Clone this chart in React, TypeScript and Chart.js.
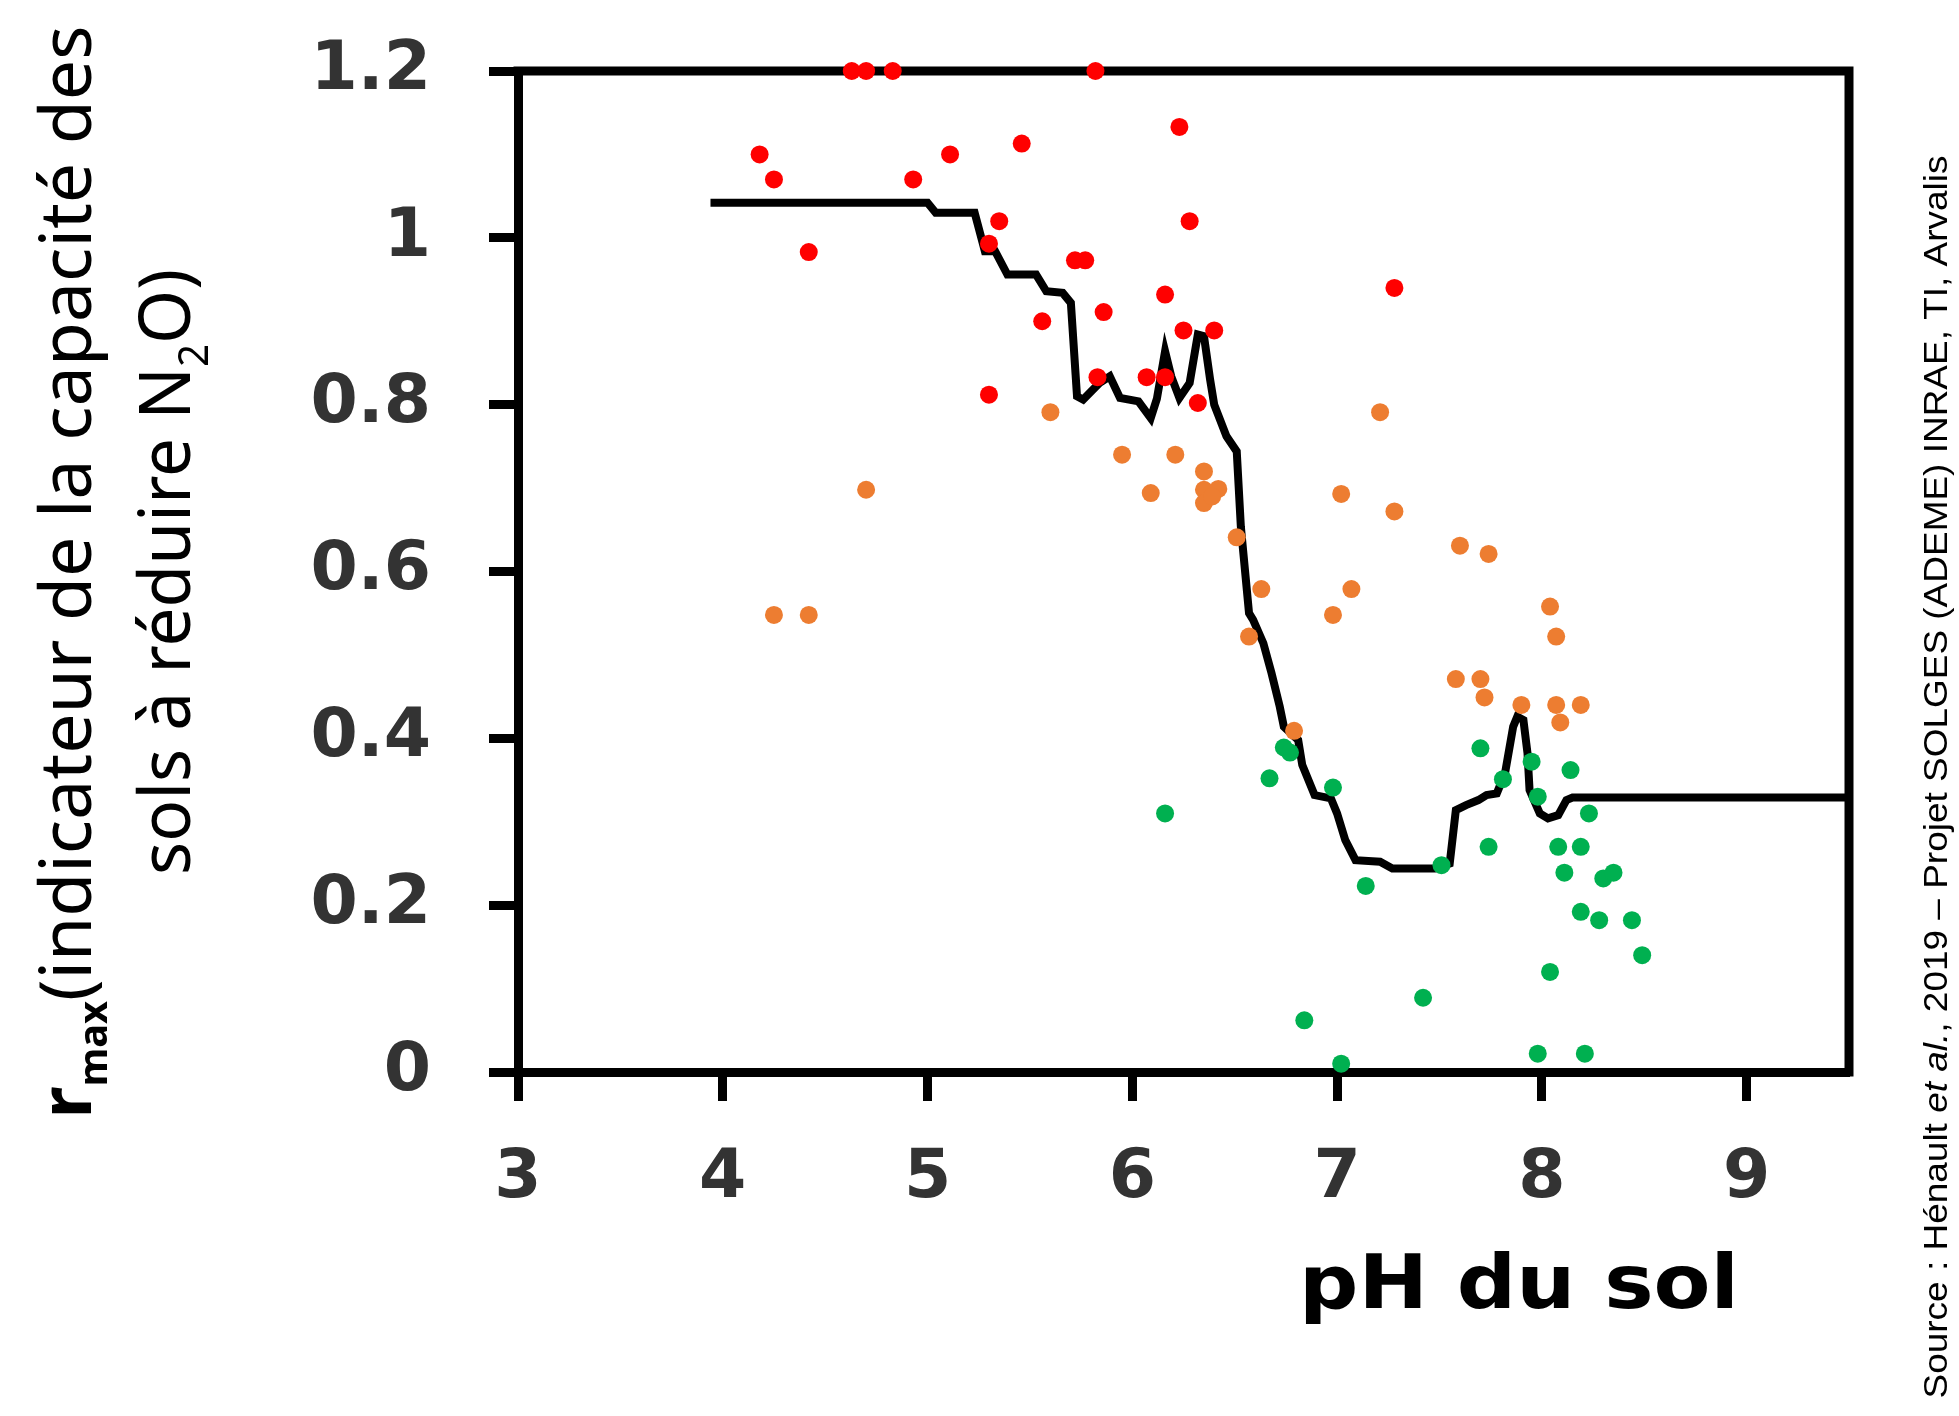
import React, { useEffect, useRef } from 'react';
import { Chart, registerables } from 'chart.js';

Chart.register(...registerables);

// ---- data ----
const redPH = [4.18, 4.25, 4.42, 4.63, 4.70, 4.83, 4.93, 5.11, 5.30, 5.35, 5.46, 5.30, 5.56, 5.72, 5.77, 5.82, 5.83, 5.86, 6.07, 6.16, 6.16, 6.23, 6.25, 6.28, 6.32, 6.40, 7.28];
const redRmax = [1.10, 1.07, 0.983, 1.2, 1.2, 1.2, 1.07, 1.10, 0.993, 1.02, 1.113, 0.812, 0.90, 0.973, 0.973, 1.2, 0.833, 0.911, 0.833, 0.833, 0.932, 1.133, 0.889, 1.02, 0.802, 0.889, 0.94];

const orangePH = [4.25, 4.42, 4.70, 5.60, 5.95, 6.09, 6.21, 6.35, 6.35, 6.42, 6.35, 6.39, 6.51, 6.57, 6.63, 6.79, 6.98, 7.02, 7.07, 7.21, 7.28, 7.58, 7.60, 7.70, 7.72, 7.74, 7.90, 8.04, 8.07, 8.07, 8.09, 8.19];
const orangeRmax = [0.548, 0.548, 0.698, 0.791, 0.740, 0.694, 0.740, 0.720, 0.698, 0.699, 0.682, 0.690, 0.641, 0.522, 0.579, 0.409, 0.548, 0.693, 0.579, 0.791, 0.672, 0.471, 0.631, 0.471, 0.449, 0.621, 0.440, 0.558, 0.522, 0.440, 0.419, 0.440];

const greenPH = [6.16, 6.67, 6.74, 6.77, 6.84, 6.98, 7.02, 7.14, 7.42, 7.51, 7.70, 7.74, 7.81, 7.95, 7.98, 7.98, 8.04, 8.08, 8.11, 8.14, 8.19, 8.19, 8.21, 8.23, 8.28, 8.30, 8.35, 8.44, 8.49];
const greenRmax = [0.310, 0.352, 0.389, 0.383, 0.062, 0.341, 0.010, 0.223, 0.089, 0.248, 0.388, 0.270, 0.351, 0.372, 0.330, 0.022, 0.120, 0.270, 0.239, 0.362, 0.270, 0.192, 0.022, 0.310, 0.182, 0.232, 0.239, 0.182, 0.140];

const curvePH = [3.94, 5.00, 5.04, 5.23, 5.28, 5.33, 5.39, 5.53, 5.58, 5.66, 5.70, 5.73, 5.76, 5.84, 5.89, 5.94, 6.03, 6.09, 6.12, 6.16, 6.19, 6.23, 6.28, 6.32, 6.35, 6.38, 6.40, 6.46, 6.51, 6.53, 6.57, 6.59, 6.64, 6.68, 6.72, 6.74, 6.81, 6.83, 6.89, 6.97, 7.00, 7.04, 7.09, 7.21, 7.27, 7.48, 7.55, 7.58, 7.63, 7.69, 7.73, 7.78, 7.82, 7.86, 7.88, 7.91, 7.93, 7.94, 7.99, 8.03, 8.08, 8.12, 8.15, 9.5];
const curveRmax = [1.042, 1.042, 1.030, 1.030, 0.984, 0.984, 0.956, 0.956, 0.936, 0.934, 0.922, 0.810, 0.806, 0.826, 0.834, 0.808, 0.804, 0.784, 0.807, 0.864, 0.834, 0.808, 0.826, 0.884, 0.882, 0.830, 0.800, 0.762, 0.744, 0.654, 0.550, 0.542, 0.514, 0.478, 0.438, 0.414, 0.398, 0.368, 0.332, 0.328, 0.310, 0.278, 0.254, 0.252, 0.244, 0.244, 0.250, 0.314, 0.320, 0.326, 0.332, 0.334, 0.358, 0.414, 0.426, 0.422, 0.382, 0.338, 0.310, 0.304, 0.308, 0.326, 0.329, 0.329];

const xTickValues = [3, 4, 5, 6, 7, 8, 9];
const xTickLabels = ['3', '4', '5', '6', '7', '8', '9'];
const yTickValues = [0, 0.2, 0.4, 0.6, 0.8, 1.0, 1.2];
const yTickLabels = ['0', '0.2', '0.4', '0.6', '0.8', '1', '1.2'];

const xTitle = 'pH du sol';
const yTitleLine1 = ['r', 'max', '(indicateur de la capacité des'];
const yTitleLine2 = ['sols à réduire N', '2', 'O)'];
const sourceParts = ['Source : Hénault ', 'et al.', ', 2019 – Projet SOLGES (ADEME) INRAE, TI, Arvalis'];

const toPoints = (xs: number[], ys: number[]) => xs.map((x, i) => ({ x, y: ys[i] }));

type Seg = { t: string; font: string; dy?: number };

function drawRun(ctx: CanvasRenderingContext2D, segs: Seg[], x0: number, y0: number, rotated: boolean, targetW: number) {
  ctx.save();
  ctx.translate(x0, y0);
  if (rotated) ctx.rotate(-Math.PI / 2);
  let W = 0;
  for (const s of segs) { ctx.font = s.font; W += ctx.measureText(s.t).width; }
  const k = targetW / W;
  ctx.scale(k, 1);
  ctx.fillStyle = '#000';
  ctx.textBaseline = 'alphabetic';
  ctx.textAlign = 'left';
  let x = -W / 2;
  for (const s of segs) {
    ctx.font = s.font;
    ctx.fillText(s.t, x, s.dy || 0);
    x += ctx.measureText(s.t).width;
  }
  ctx.restore();
}

const framePlugin = {
  id: 'frameBox',
  beforeDatasetsDraw(chart: any) {
    const { ctx, chartArea: a } = chart;
    ctx.save();
    ctx.strokeStyle = '#000';
    ctx.lineWidth = 9;
    ctx.lineCap = 'square';
    ctx.lineJoin = 'miter';
    ctx.beginPath();
    ctx.moveTo(a.left, a.top);
    ctx.lineTo(a.right, a.top);
    ctx.lineTo(a.right, a.bottom);
    ctx.stroke();
    ctx.restore();
  },
};

const textPlugin = {
  id: 'texts',
  afterDraw(chart: any) {
    const ctx: CanvasRenderingContext2D = chart.ctx;
    const F = 72;
    drawRun(ctx, [
      { t: yTitleLine1[0], font: `bold ${F}px "Noto Sans"` },
      { t: yTitleLine1[1], font: `bold ${Math.round(F * 0.55)}px "Noto Sans"`, dy: 16 },
      { t: yTitleLine1[2], font: `${F}px "Noto Sans"` },
    ], 91, 572, true, 1093);
    drawRun(ctx, [
      { t: yTitleLine2[0], font: `${F}px "Noto Sans"` },
      { t: yTitleLine2[1], font: `${Math.round(F * 0.58)}px "Noto Sans"`, dy: 18 },
      { t: yTitleLine2[2], font: `${F}px "Noto Sans"` },
    ], 190, 572, true, 606);
    drawRun(ctx, [{ t: xTitle, font: 'bold 75px "DejaVu Sans"' }], 1519, 1308, false, 440);
    drawRun(ctx, [
      { t: sourceParts[0], font: '34px "Liberation Sans"' },
      { t: sourceParts[1], font: 'italic 34px "Liberation Sans"' },
      { t: sourceParts[2], font: '34px "Liberation Sans"' },
    ], 1947, 777, true, 1243);
  },
};

export default function App() {
  const ref = useRef<HTMLCanvasElement | null>(null);
  useEffect(() => {
    if (!ref.current) return;
    const tickFont = { family: '"DejaVu Sans"', weight: 'bold' as const, size: 68 };
    const chart = new Chart(ref.current, {
      type: 'scatter',
      data: {
        datasets: [
          { label: 'rouge', data: toPoints(redPH, redRmax), backgroundColor: '#FF0000', borderWidth: 0, pointRadius: 9, clip: false as any },
          { label: 'orange', data: toPoints(orangePH, orangeRmax), backgroundColor: '#ED7D31', borderWidth: 0, pointRadius: 9, clip: false as any },
          { label: 'vert', data: toPoints(greenPH, greenRmax), backgroundColor: '#00B050', borderWidth: 0, pointRadius: 9, clip: false as any },
          { label: 'courbe', data: toPoints(curvePH, curveRmax), showLine: true, borderColor: '#000000', borderWidth: 8, pointRadius: 0, tension: 0, clip: false as any },
        ],
      },
      options: {
        animation: false,
        responsive: true,
        maintainAspectRatio: false,
        events: [],
        layout: { padding: { left: 0, top: 71, right: 110, bottom: 0 } },
        plugins: { legend: { display: false }, tooltip: { enabled: false }, title: { display: false } },
        scales: {
          x: {
            type: 'linear',
            min: 3,
            max: 9.5,
            afterBuildTicks: (s: any) => { s.ticks = xTickValues.map((v) => ({ value: v })); },
            afterFit: (s: any) => { s.height = 1416 - 1072; s.paddingLeft = 0; s.paddingRight = 0; s.paddingTop = 0; s.paddingBottom = 0; },
            border: { display: true, color: '#000', width: 9 },
            grid: { drawOnChartArea: false, drawTicks: true, tickLength: 29, tickWidth: 9, tickColor: '#000', color: '#000' },
            ticks: { font: tickFont, color: '#333333', padding: 38, maxRotation: 0, autoSkip: false, callback: (_v: any, i: number) => xTickLabels[i] },
          },
          y: {
            type: 'linear',
            min: 0,
            max: 1.2,
            afterBuildTicks: (s: any) => { s.ticks = yTickValues.map((v) => ({ value: v })); },
            afterFit: (s: any) => { s.width = 518; s.paddingTop = 0; s.paddingBottom = 0; s.paddingLeft = 0; s.paddingRight = 0; },
            border: { display: true, color: '#000', width: 9 },
            grid: { drawOnChartArea: false, drawTicks: true, tickLength: 29, tickWidth: 9, tickColor: '#000', color: '#000' },
            ticks: { font: tickFont, color: '#333333', padding: 58, autoSkip: false, callback: (_v: any, i: number) => yTickLabels[i] },
          },
        },
      },
      plugins: [framePlugin, textPlugin],
    } as any);
    return () => chart.destroy();
  }, []);
  return (
    <div style={{ position: 'absolute', left: 0, top: 0, width: 1959, height: 1416, background: '#fff' }}>
      <canvas ref={ref} />
    </div>
  );
}
